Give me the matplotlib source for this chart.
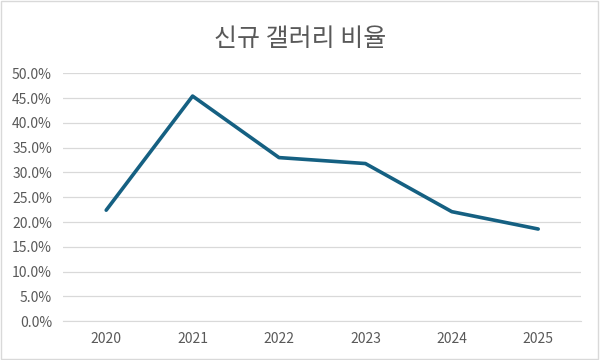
import matplotlib
matplotlib.use("Agg")
import matplotlib.pyplot as plt
from matplotlib.ticker import PercentFormatter
from matplotlib.patches import Rectangle

plt.rcParams['font.family'] = ['Noto Sans CJK KR', 'DejaVu Sans']

years = ['2020', '2021', '2022', '2023', '2024', '2025']
ratio = [22.4, 45.4, 33.0, 31.8, 22.1, 18.6]  # %
title = '신규 갤러리 비율'

fig = plt.figure(figsize=(6, 3.6), dpi=100)
ax = fig.add_axes([0.105, 0.1075, 0.864, 0.689])

ax.plot(range(len(years)), ratio, color='#156082', lw=2.6,
        solid_capstyle='round', solid_joinstyle='round', zorder=3)

ax.set_xlim(-0.5, len(years) - 0.5)
ax.set_ylim(0, 50)
ax.set_yticks(range(0, 51, 5))
ax.yaxis.set_major_formatter(PercentFormatter(decimals=1))
ax.set_xticks(range(len(years)))
ax.set_xticklabels(years)
ax.grid(axis='y', color='#D9D9D9', lw=0.9)
ax.set_axisbelow(True)
for s in ax.spines.values():
    s.set_visible(False)
ax.spines['bottom'].set_visible(True)
ax.spines['bottom'].set_color('#D9D9D9')
ax.tick_params(length=0, labelsize=10, colors='#595959')
ax.tick_params(axis='y', pad=8)
ax.tick_params(axis='x', pad=8)

fig.text(0.5, 0.892, title, ha='center', va='center', fontsize=18,
         color='#595959', fontweight='light')
fig.patches.append(Rectangle((0.002, 0.003), 0.995, 0.993, transform=fig.transFigure,
                             fill=False, ec='#D9D9D9', lw=1))

fig.savefig('out.png', dpi=100)
